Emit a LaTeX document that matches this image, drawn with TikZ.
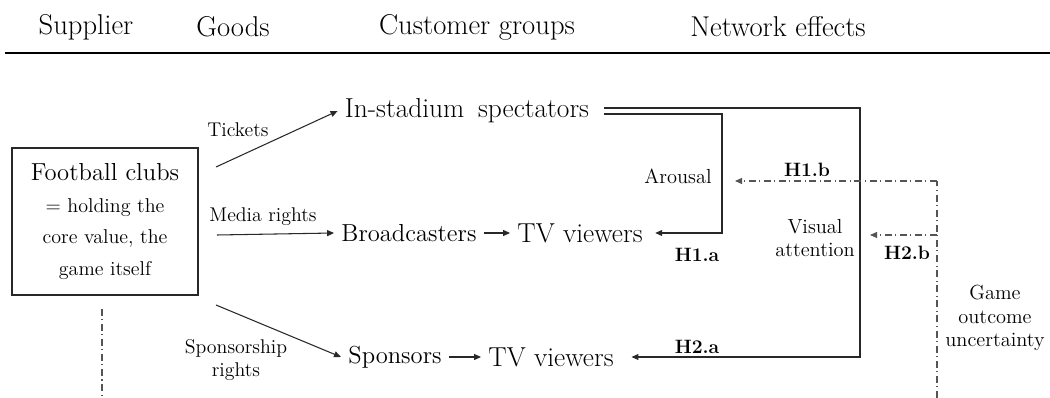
\documentclass[tikz,border=0pt]{standalone}
\usepackage{tikz}
\usetikzlibrary{arrows.meta,positioning,calc}
\definecolor{lnk}{RGB}{40,40,40}
\definecolor{dashc}{RGB}{85,85,85}
\tikzset{
  hdr/.style={font=\fontsize{16.3}{19}\selectfont},
  grp/.style={font=\fontsize{15.6}{18}\selectfont, inner sep=4pt},
  grpm/.style={font=\fontsize{14}{16}\selectfont, inner sep=4pt},
  gd/.style={font=\fontsize{11.3}{13}\selectfont, align=center, inner sep=1pt},
  hyp/.style={font=\fontsize{11}{12}\selectfont\bfseries, inner sep=1pt},
  efx/.style={font=\fontsize{11.6}{13.6}\selectfont, align=center, inner sep=1pt},
  clubbox/.style={draw=lnk, semithick, minimum width=3.72cm, minimum height=2.94cm,
                  align=center, font=\fontsize{11.4}{18}\selectfont},
  arr/.style={-{Triangle[length=1.4mm,width=1.2mm]}, lnk, semithick},
  dd/.style={dashc, semithick, dash pattern=on 4pt off 2pt on 0.6pt off 2pt},
  ddarr/.style={dd, -{Triangle[length=1.4mm,width=1.2mm]}},
}

\begin{document}
\begin{tikzpicture}[x=0.02cm, y=-0.02cm]
  \useasboundingbox (0,0) rectangle (1050,398);
  % header
  \node[hdr] (hSup) at (86,27) {Supplier};
  \node[hdr] (hGoods) at (233,27) {Goods};
  \node[hdr] (hCust) at (477,27) {Customer groups};
  \node[hdr] (hNet) at (778,27) {Network effects};
  \draw[line width=1.1pt] (5,53) -- (1050,53);
  % supplier
  \node[clubbox] (clubs) at (105,221.5)
    {{\fontsize{14}{18}\selectfont Football clubs}\\= holding the\\core value, the\\game itself};
  % customer groups
  \node[grp] (spect) at (467,111) {In-stadium\hspace{0.2em} spectators};
  \node[grpm] (bcast) at (409,233) {Broadcasters};
  \node[grp] (tvA) at (580,233) {TV viewers};
  \node[grpm] (spons) at (395,357) {Sponsors};
  \node[grp] (tvB) at (551,357) {TV viewers};
  % goods
  \node[gd] (gTick) at (238,130) {Tickets};
  \node[gd] (gMedia) at (263,217) {Media rights};
  \node[gd] (gSpons) at (236,360) {Sponsorship\\rights};
  % effects
  \node[efx] (eArous) at (678,176) {Arousal};
  \node[efx] (eVis) at (815,238) {Visual\\attention};
  \node[efx] (eGame) at (995,318) {Game\\outcome\\uncertainty};
  \node[hyp] (h1a) at (697,255) {H1.a};
  \node[hyp] (h2a) at (697,347) {H2.a};
  \node[hyp] (h1b) at (807,170) {H1.b};
  \node[hyp] (h2b) at (907,253) {H2.b};
  % free ends
  \coordinate (tkS) at (216,167);
  \coordinate (mdS) at (217,235);
  \coordinate (spS) at (216,305);
  \coordinate (xIn) at (722,0);
  \coordinate (xOut) at (860,0);
  \coordinate (gouT) at (937,181);
  \coordinate (gouM) at (937,235);
  \coordinate (gouB) at (937,398);
  \coordinate (h1bE) at (735,181);
  \coordinate (h2bE) at (870,235);
  \coordinate (supB) at (102,398);
  % goods arrows
  \draw[arr] (tkS) -- (spect.west);
  \draw[arr] (mdS) -- (bcast.west);
  \draw[arr] (spS) -- (spons.west);
  \draw[arr] (bcast) -- (tvA);
  \draw[arr] (spons) -- (tvB);
  % spectators to TV viewers
  \draw[arr] ([shift={(8,3)}]spect.east) -| (xIn |- tvA.east) -- ([xshift=3]tvA.east);
  \draw[arr] ([shift={(8,-3)}]spect.east) -| (xOut |- tvB.east) -- ([xshift=6]tvB.east);
  % game outcome uncertainty
  \draw[dd] (gouB) -- (gouT);
  \draw[ddarr] (gouT) -- (h1bE);
  \draw[ddarr] (gouM) -- (h2bE);
  \draw[dd] ([shift={(-3,13)}]clubs.south) -- (supB);
\end{tikzpicture}
\end{document}
